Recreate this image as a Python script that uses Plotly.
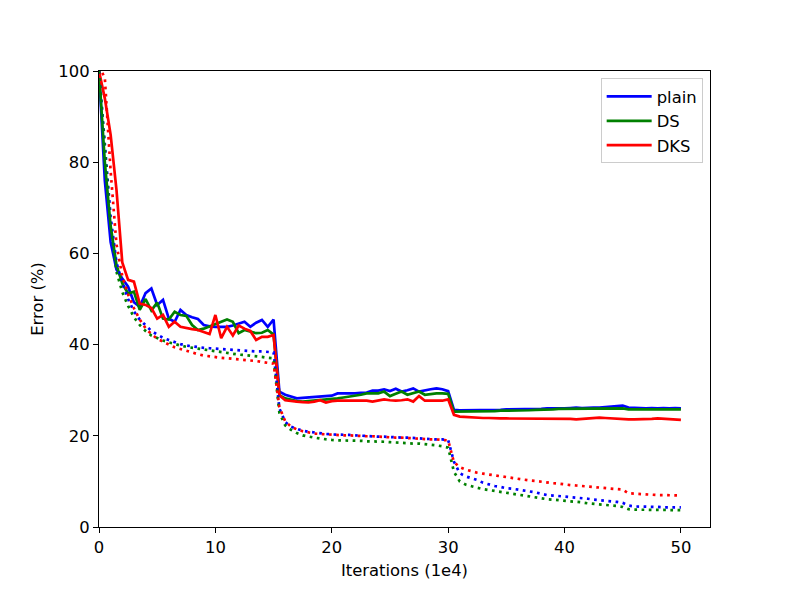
import numpy as np
import plotly.graph_objects as go

iterations = list(np.arange(0, 50.5, 0.5))

plain_test = [100, 76, 62.5, 56.5, 54.5, 52.7, 49.3, 48.3, 51.3, 52.3, 48.7, 49.8, 45.7, 45.0, 47.6, 46.5,
              46.0, 45.6, 44.3, 44.0, 43.9, 43.9, 43.9, 44.2, 44.6, 45.0, 43.9, 44.8, 45.4, 43.9, 45.5,
              29.7, 29.0, 28.6, 28.2, 28.3, 28.4, 28.4, 28.5, 28.7, 28.8, 29.3, 29.3, 29.2, 29.3, 29.4,
              29.5, 29.9, 29.9, 30.2, 29.8, 30.3, 29.7, 30.0, 30.4, 29.7, 30.0, 30.2, 30.4, 30.2, 29.8,
              25.7, 25.6, 25.6, 25.6, 25.6, 25.6, 25.7, 25.7, 25.7, 25.8, 25.8,
              25.8, 25.9, 25.9, 25.8, 25.9, 26.0, 26.0, 25.9, 26.0, 26.1,
              26.2, 26.1, 26.2, 26.2, 26.2, 26.3, 26.3, 26.4, 26.6, 26.2,
              26.1, 26.1, 26.0, 26.1, 26.0, 26.1, 26.0, 26.1, 26.0]

ds_test = [100, 80, 66, 57.5, 53.4, 51.2, 51.6, 47.6, 50.0, 47.5, 49.2, 45.7, 45.5, 47.2, 46.5, 46.3,
           44.3, 43.2, 43.5, 44.0, 44.4, 45.0, 45.5, 45.0, 42.5, 43.2, 42.8, 42.5, 42.6, 43.2, 42.2,
           28.9, 28.2, 27.9, 27.6, 27.5, 27.6, 27.7, 27.8, 27.9, 28.1,
           28.2, 28.4, 28.6, 28.7, 29.0, 29.3, 29.3, 29.3, 29.7, 28.7,
           29.2, 29.7, 29.0, 29.4, 29.7, 29.0, 29.2, 29.3, 29.3, 29.2,
           25.3, 25.3, 25.3, 25.3, 25.3, 25.4, 25.4, 25.4, 25.5, 25.5,
           25.5, 25.6, 25.6, 25.6, 25.7, 25.7, 25.8, 25.8, 25.9, 25.9,
           25.9, 25.9, 26.0, 26.0, 26.0, 26.0, 26.0, 26.0, 26.0, 26.0,
           25.8, 25.8, 25.8, 25.8, 25.8, 25.8, 25.9, 25.8, 25.8, 25.8]

dks_test = [100, 94, 86, 74, 58, 54.2, 53.8, 49.0, 48.7, 48.0, 45.7, 46.5, 43.9, 45.0, 43.9, 43.6,
            43.4, 43.2, 42.8, 42.3, 46.5, 41.4, 43.9, 42.0, 44.2, 43.5, 43.0, 41.0, 41.7, 41.7, 42.1,
            28.9, 27.8, 27.6, 27.5, 27.4, 27.3, 27.5, 27.8, 27.3, 27.6,
            27.7, 27.7, 27.8, 27.8, 27.8, 27.7, 27.5, 27.8, 28.0, 27.8,
            27.7, 27.8, 28.0, 27.5, 28.7, 27.7, 27.7, 27.6, 27.7, 28.0,
            24.6, 24.2, 24.1, 24.0, 24.0, 23.9, 23.9, 23.8, 23.8, 23.8,
            23.8, 23.8, 23.8, 23.8, 23.8, 23.8, 23.8, 23.8, 23.7, 23.8,
            23.7, 23.6, 23.7, 23.8, 23.9, 24.0, 23.9, 23.8, 23.7, 23.6,
            23.6, 23.6, 23.6, 23.6, 23.7, 23.8, 23.7, 23.6, 23.6, 23.5]

plain_train = [100, 84, 68, 58, 53.5, 50.0, 47.3, 45.5, 44.2, 43.0, 42.2, 41.5, 41.0, 40.5, 40.1, 39.8,
               39.6, 39.4, 39.3, 39.2, 39.1, 39.0, 39.0, 38.9, 38.8, 38.7, 38.6, 38.5, 38.5, 38.4, 38.3,
               26.0, 23.0, 22.0, 21.5, 21.1, 20.9, 20.7, 20.6, 20.4, 20.3,
               20.3, 20.2, 20.2, 20.1, 20.0, 20.0, 19.9, 19.8, 19.8, 19.7,
               19.7, 19.6, 19.6, 19.5, 19.4, 19.4, 19.3, 19.2, 19.2, 19.1,
               14.3, 11.8, 11.1, 10.7, 10.3, 9.7, 9.3, 9.0, 8.8, 8.5,
               8.4, 8.2, 8.1, 7.9, 7.6, 7.3, 7.0, 6.9, 6.8, 6.7,
               6.6, 6.4, 6.3, 6.2, 6.0, 5.9, 5.8, 5.6, 5.5, 5.3,
               4.7, 4.5, 4.5, 4.4, 4.4, 4.4, 4.3, 4.3, 4.3, 4.3]

ds_train = [100, 82, 66, 56, 51.5, 48.5, 46.0, 44.3, 43.0, 42.0, 41.4, 40.9, 40.5, 40.1, 39.8, 39.5,
            39.3, 39.1, 38.9, 38.7, 38.5, 38.3, 38.1, 38.0, 37.8, 37.7, 37.6, 37.5, 37.3, 37.1, 37.0,
            25.0, 22.3, 21.3, 20.6, 20.1, 19.8, 19.6, 19.4, 19.2, 19.1,
            19.0, 19.0, 19.0, 19.0, 18.9, 18.8, 18.8, 18.7, 18.7, 18.6,
            18.5, 18.5, 18.4, 18.3, 18.3, 18.2, 18.0, 17.9, 17.7, 17.4,
            12.1, 10.0, 9.3, 8.9, 8.6, 8.3, 8.1, 7.8, 7.6, 7.4,
            7.3, 7.0, 6.9, 6.6, 6.4, 6.3, 6.1, 6.0, 5.9, 5.7,
            5.6, 5.5, 5.4, 5.2, 5.1, 5.0, 4.8, 4.7, 4.6, 4.4,
            3.9, 3.8, 3.8, 3.8, 3.8, 3.7, 3.7, 3.7, 3.7, 3.7]

dks_train = [101, 98.5, 78, 62, 55, 51.0, 48.0, 45.5, 43.6, 42.3, 41.3, 40.6, 40.0, 39.4, 39.0, 38.6,
             38.2, 37.9, 37.6, 37.4, 37.2, 37.1, 37.0, 36.9, 36.8, 36.7, 36.5, 36.4, 36.2, 36.0, 35.8,
             26.3, 23.2, 22.0, 21.4, 21.0, 20.7, 20.5, 20.4, 20.3, 20.2,
             20.2, 20.1, 20.1, 20.0, 20.0, 19.9, 19.9, 19.8, 19.8, 19.7,
             19.6, 19.6, 19.5, 19.4, 19.4, 19.3, 19.2, 19.2, 19.1, 19.0,
             14.2, 13.1, 12.6, 12.2, 11.9, 11.7, 11.5, 11.3, 11.1, 10.9,
             10.7, 10.6, 10.4, 10.2, 10.1, 9.9, 9.8, 9.6, 9.5, 9.3,
             9.2, 9.1, 9.0, 8.8, 8.7, 8.6, 8.5, 8.4, 8.3, 8.2,
             7.4, 7.3, 7.2, 7.1, 7.1, 7.0, 7.0, 7.0, 7.0, 6.9]

series_names = ["plain", "DS", "DKS"]
series_colors = ["#0000ff", "#008000", "#ff0000"]
x_ticks = [0, 10, 20, 30, 40, 50]
y_ticks = [0, 20, 40, 60, 80, 100]

FONT = "DejaVu Sans"
FS = 16.4
LW = 2.7

fig = go.Figure()
for name, color, ys in zip(series_names, series_colors, [plain_test, ds_test, dks_test]):
    fig.add_trace(go.Scatter(x=iterations, y=ys, mode="lines", name=name,
                             line=dict(color=color, width=LW)))
for name, color, ys in zip(series_names, series_colors, [plain_train, ds_train, dks_train]):
    fig.add_trace(go.Scatter(x=iterations, y=ys, mode="lines", name=name + " train",
                             showlegend=False,
                             line=dict(color=color, width=LW, dash="2.7px,4.5px")))

axis_common = dict(showgrid=False, zeroline=False, showline=True, linecolor="black",
                   linewidth=1.1, mirror=True, ticks="outside", ticklen=5, tickwidth=1.1,
                   tickcolor="black", tickfont=dict(family=FONT, size=FS, color="black"))

fig.update_layout(
    width=789, height=592,
    margin=dict(l=90.6, r=87, t=63, b=73),
    paper_bgcolor="white", plot_bgcolor="white",
    font=dict(family=FONT, size=FS, color="black"),
    showlegend=True,
    legend=dict(x=0.988, y=0.984, xanchor="right", yanchor="top",
                bgcolor="rgba(255,255,255,0.8)", bordercolor="#cccccc", borderwidth=1,
                tracegroupgap=0, itemwidth=45,
                font=dict(family=FONT, size=FS, color="black")),
    xaxis=dict(range=[0, 52.5], tickvals=x_ticks,
               title=dict(text="Iterations (1e4)", standoff=8,
                          font=dict(family=FONT, size=FS, color="black")),
               **axis_common),
    yaxis=dict(range=[0, 100], tickvals=y_ticks,
               title=dict(text="Error (%)", standoff=10,
                          font=dict(family=FONT, size=FS, color="black")),
               **axis_common),
)

fig.write_html("out.html")
